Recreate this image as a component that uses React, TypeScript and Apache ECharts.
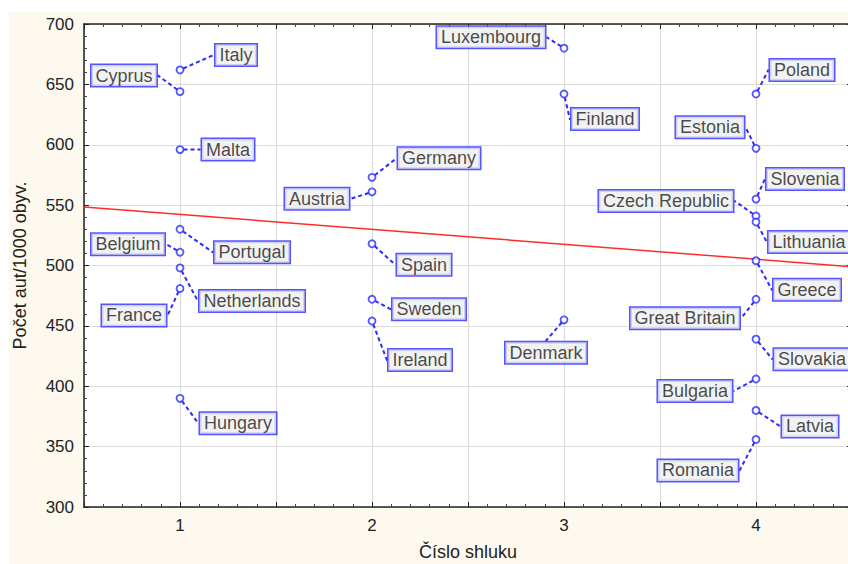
import React, { useEffect, useRef } from "react";
import * as echarts from "echarts";

const countries = [
  "Italy", "Cyprus", "Malta", "Portugal", "Belgium", "Netherlands", "France", "Hungary",
  "Germany", "Austria", "Spain", "Sweden", "Ireland",
  "Luxembourg", "Finland", "Denmark",
  "Poland", "Estonia", "Slovenia", "Czech Republic", "Lithuania", "Greece", "Great Britain",
  "Slovakia", "Bulgaria", "Latvia", "Romania",
];
const clusterOf = [
  1, 1, 1, 1, 1, 1, 1, 1,
  2, 2, 2, 2, 2,
  3, 3, 3,
  4, 4, 4, 4, 4, 4, 4, 4, 4, 4, 4,
];
const carsPer1000 = [
  662, 644, 596, 530, 511, 498, 481, 390,
  573, 561, 518, 472, 454,
  680, 642, 455,
  642, 597, 555, 541, 536, 504, 472, 439, 406, 380, 356,
];
const trendX = [0.5, 4.5];
const trendY = [548.5, 499];
const yTicks = [300, 350, 400, 450, 500, 550, 600, 650, 700];

// label offsets (px) from point to label-box centre
const labelOffsets: Record<string, [number, number]> = {
  Italy: [56, -15], Cyprus: [-56, -16], Malta: [48, 0], Portugal: [72, 23],
  Belgium: [-52, -8], Netherlands: [72, 33], France: [-46, 27], Hungary: [58, 25],
  Germany: [67, -19], Austria: [-55, 7], Spain: [52, 21], Sweden: [57, 10], Ireland: [48, 39],
  Luxembourg: [-73, -11], Finland: [41, 25], Denmark: [-18, 33],
  Poland: [46, -24], Estonia: [-46, -21], Slovenia: [49, -20], "Czech Republic": [-90, -15],
  Lithuania: [53, 20], Greece: [51, 29], "Great Britain": [-71, 19], Slovakia: [56, 20],
  Bulgaria: [-61, 12], Latvia: [54, 16], Romania: [-58, 31],
};

const FONT = "'Liberation Sans', Arial, sans-serif";
const BLUE = "#2b2bff";

export default function App() {
  const ref = useRef<HTMLDivElement>(null);
  useEffect(() => {
    if (!ref.current) return;
    const chart = echarts.init(ref.current, null, { renderer: "svg" });
    const pts = countries.map((n, i) => ({ name: n, value: [clusterOf[i], carsPer1000[i]] }));
    const axisCommon = {
      axisLine: { show: true, onZero: false, lineStyle: { color: "#222", width: 1.5 } },
      axisTick: { show: true, inside: true, length: 5, lineStyle: { color: "#222" } },
      minorTick: { show: true, splitNumber: 5, length: 3, lineStyle: { color: "#444" } },
    };
    chart.setOption({
      animation: false,
      textStyle: { fontFamily: FONT },
      graphic: [
        {
          type: "rect",
          z: -10,
          silent: true,
          shape: { x: 9, y: 12, width: 900, height: 600 },
          style: { fill: "#fdf9ef" },
        },
      ],
      grid: {
        left: 84, top: 24, width: 768, bottom: 57,
        outerBoundsMode: "none",
        containLabel: false,
        show: true, backgroundColor: "#ffffff", borderWidth: 0,
      },
      xAxis: [
        {
          type: "value", min: 0.5, max: 4.5, interval: 0.5,
          name: "Číslo shluku", nameLocation: "middle", nameGap: 36,
          nameTextStyle: { fontSize: 18, color: "#222", fontFamily: FONT },
          ...axisCommon,
          axisLabel: {
            fontSize: 17, color: "#222", margin: 10, fontFamily: FONT,
            formatter: (v: number) => (Number.isInteger(v) ? String(v) : ""),
          },
          splitLine: { show: true, lineStyle: { color: "#dcdcdc", width: 1.2 } },
        },
        {
          type: "value", min: 0.5, max: 4.5, interval: 0.5, position: "top",
          ...axisCommon,
          axisLabel: { show: false },
          splitLine: { show: false },
        },
      ],
      yAxis: [
        {
          type: "value", min: yTicks[0], max: yTicks[yTicks.length - 1], interval: 50,
          name: "Počet aut/1000 obyv.", nameLocation: "middle", nameGap: 55,
          nameTextStyle: { fontSize: 18, color: "#222", fontFamily: FONT },
          ...axisCommon,
          axisLabel: { fontSize: 17, color: "#222", margin: 10, fontFamily: FONT },
          splitLine: { show: true, lineStyle: { color: "#dcdcdc", width: 1.2 } },
        },
        {
          type: "value", min: yTicks[0], max: yTicks[yTicks.length - 1], interval: 50, position: "right",
          ...axisCommon,
          axisLabel: { show: false },
          splitLine: { show: false },
        },
      ],
      series: [
        {
          type: "line",
          data: trendX.map((x, i) => [x, trendY[i]]),
          symbol: "none",
          lineStyle: { color: "#ff2a2a", width: 1.5 },
          z: 2,
          silent: true,
        },
        {
          type: "scatter",
          data: pts,
          symbol: "circle",
          symbolSize: 7,
          itemStyle: { color: "#ffffff", borderColor: BLUE, borderWidth: 1.8 },
          z: 3,
          label: {
            show: true,
            position: "inside",
            formatter: "{b}",
            fontSize: 18,
            fontFamily: FONT,
            color: "#1a1a1a",
            backgroundColor: "#efefef",
            borderColor: BLUE,
            borderWidth: 1.5,
            padding: [2, 4, 1, 4],
            lineHeight: 18,
          },
          labelLine: {
            show: true,
            length: 0.1,
            length2: 0.1,
            minTurnAngle: 0,
            lineStyle: { color: BLUE, width: 2, type: [4, 3] },
          },
          labelLayout: (params: any) => {
            const o = labelOffsets[countries[params.dataIndex]] || [0, 0];
            return { dx: o[0], dy: o[1] };
          },
        },
      ],
    });
    return () => chart.dispose();
  }, []);
  return (
    <div
      ref={ref}
      style={{ position: "fixed", left: 0, top: 0, width: 848, height: 564, background: "#ffffff" }}
    />
  );
}
